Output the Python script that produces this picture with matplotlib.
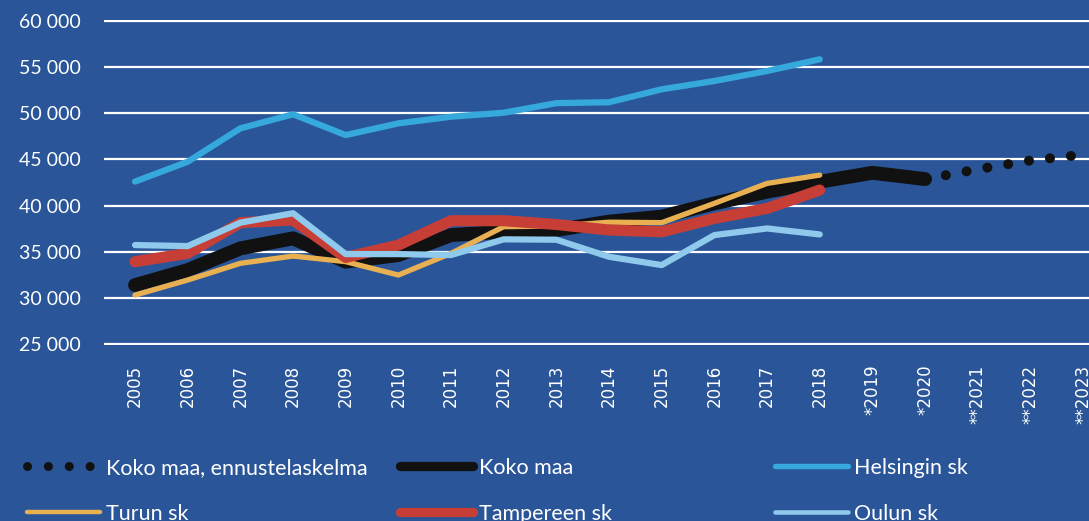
import numpy as np
import matplotlib
matplotlib.use("Agg")
import matplotlib.pyplot as plt
from matplotlib.lines import Line2D

# =========================
# DATA
# =========================
YEARS = ["2005", "2006", "2007", "2008", "2009", "2010", "2011", "2012",
         "2013", "2014", "2015", "2016", "2017", "2018",
         "*2019", "*2020", "**2021", "**2022", "**2023"]

KOKO_MAA = [31380, 33010, 35360, 36450, 33920, 34640, 36800, 37160,
            37350, 38260, 38800, 40240, 41500, 42580, 43550, 42870]
ENNUSTE_YEARS = [15, 16, 17, 18]           # *2020 .. **2023
ENNUSTE = [42870, 43940, 44890, 45520]

HELSINKI = [42600, 44750, 48370, 49890, 47640, 48910, 49630, 50060,
            51100, 51200, 52600, 53500, 54580, 55850]
TURKU = [30300, 31930, 33740, 34530, 33920, 32470, 34820, 37710,
         37780, 38200, 38150, 40240, 42400, 43300]
TAMPERE = [33920, 34820, 38150, 38430, 34380, 35720, 38360, 38360,
           37950, 37350, 37160, 38610, 39690, 41680]
OULU = [35720, 35610, 38150, 39170, 34740, 34740, 34640, 36340,
        36300, 34450, 33550, 36800, 37520, 36870]

PALETTE = {"bg": "#2A5699", "black": "#111111", "hki": "#36A9DC",
           "turku": "#E9B052", "tampere": "#C73E36", "oulu": "#8FC9EC"}

W, H = 1089, 521
fig = plt.figure(figsize=(W / 100, H / 100), dpi=100)
fig.patch.set_facecolor(PALETTE["bg"])

# axes: x from px 104 to right edge, y from 60 000 (px 21) to 25 000 (px 344)
ax = fig.add_axes([104 / W, 1 - 345 / H, 1 - 104 / W, 325 / H])
ax.set_facecolor(PALETTE["bg"])

x = np.arange(len(YEARS))

ax.plot(ENNUSTE_YEARS, ENNUSTE, color=PALETTE["black"], lw=7.2,
        linestyle=(0, (0.01, 2.1)), dash_capstyle="round", zorder=3)
ax.plot(x[:len(KOKO_MAA)], KOKO_MAA, color=PALETTE["black"], lw=10,
        solid_capstyle="round", zorder=3)
ax.plot(x[:len(HELSINKI)], HELSINKI, color=PALETTE["hki"], lw=4.5,
        solid_capstyle="round", zorder=4)
ax.plot(x[:len(TURKU)], TURKU, color=PALETTE["turku"], lw=3.8,
        solid_capstyle="round", zorder=5)
ax.plot(x[:len(TAMPERE)], TAMPERE, color=PALETTE["tampere"], lw=8,
        solid_capstyle="round", zorder=6)
ax.plot(x[:len(OULU)], OULU, color=PALETTE["oulu"], lw=4.5,
        solid_capstyle="round", zorder=7)

ax.set_xlim(-0.589, -0.589 + 985 / 52.67)
ax.set_ylim(24890, 60110)
ax.set_yticks(np.arange(25000, 60001, 5000))
ax.set_yticklabels([f"{v:,}".replace(",", " ") for v in range(25000, 60001, 5000)],
                   fontsize=14, color="white", family="Lato")
ax.set_xticks(x)
ax.set_xticklabels(YEARS, rotation=90, fontsize=12, color="white",
                   family="DejaVu Sans", va="top", ha="center")
ax.tick_params(axis="y", length=0, pad=17)
ax.tick_params(axis="x", length=0, pad=14)
ax.grid(axis="y", color="white", lw=1.6, zorder=1)
ax.grid(axis="x", visible=False)
for s in ax.spines.values():
    s.set_visible(False)

# legend: three columns, two rows (handles drawn thinner, as in the original)
def proxy(color, lw, **kw):
    return Line2D([], [], color=color, lw=lw, solid_capstyle="round", **kw)

cols = [
    (27, [proxy(PALETTE["black"], 6.5, linestyle=(0, (0.01, 2.3)), dash_capstyle="round"),
          proxy(PALETTE["turku"], 3.2)],
     ["Koko maa, ennustelaskelma", "Turun sk"]),
    (400, [proxy(PALETTE["black"], 6.7), proxy(PALETTE["tampere"], 6.7)],
     ["Koko maa", "Tampereen sk"]),
    (775, [proxy(PALETTE["hki"], 3.9), proxy(PALETTE["oulu"], 3.3)],
     ["Helsingin sk", "Oulun sk"]),
]
for xpx, handles, labels in cols:
    fig.legend(handles=handles, labels=labels,
               loc="upper left", bbox_to_anchor=(xpx / W, 1 - 458 / H),
               frameon=False, ncol=1, labelcolor="white",
               handlelength=3.4, handletextpad=0.25, labelspacing=1.2,
               borderpad=0, borderaxespad=0, prop={"family": "Lato", "size": 15.5})

fig.savefig("out.png", dpi=100, facecolor=fig.get_facecolor())
